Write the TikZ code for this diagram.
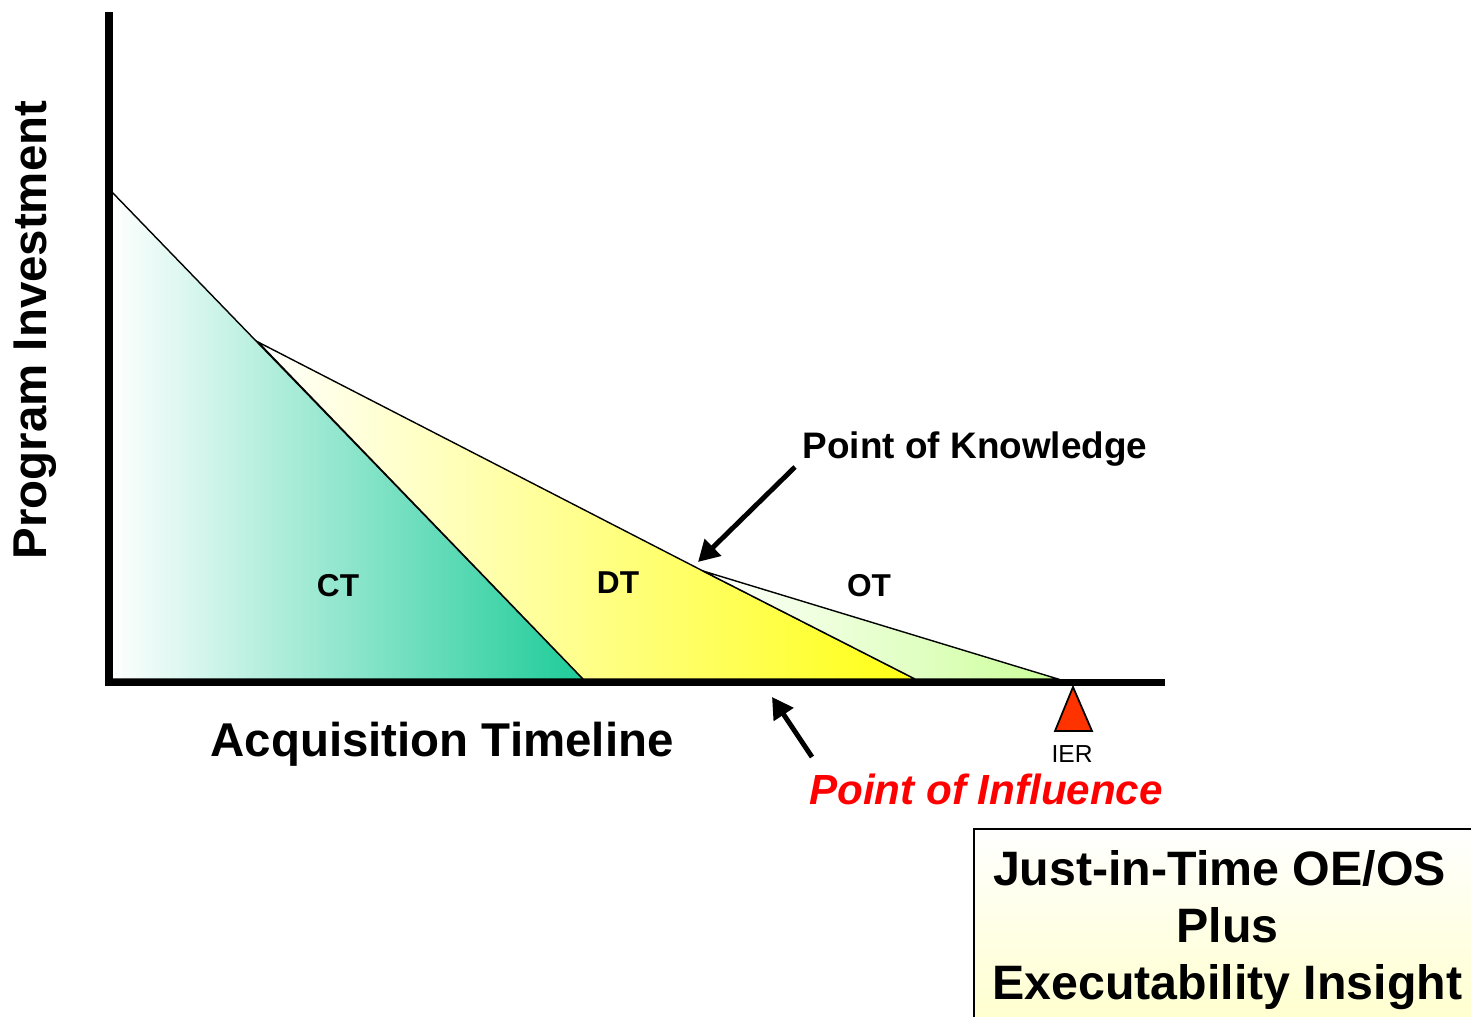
\documentclass[tikz,border=0pt]{standalone}
\usepackage{fontspec}
\setmainfont{Liberation Sans}
\usetikzlibrary{arrows.meta}

\definecolor{ctgreen}{RGB}{30,204,153}
\definecolor{dtyellow}{RGB}{255,255,20}
\definecolor{otgreen}{RGB}{204,255,153}
\definecolor{boxyellow}{RGB}{255,255,204}
\definecolor{iered}{RGB}{255,51,0}

\begin{document}
\begin{tikzpicture}[x=0.02cm,y=-0.02cm,
  axis/.style={line width=4.3pt},
  phaseline/.style={line width=0.8pt},
  pointer/.style={line width=2.8pt,-{Triangle[length=12pt,width=13pt]}},
  axislabel/.style={font=\fontsize{27}{32}\selectfont\bfseries,anchor=base},
  phase/.style={font=\fontsize{18}{21}\selectfont\bfseries,anchor=base}]

\useasboundingbox (0,0) rectangle (1471,1017);
\clip (0,0) rectangle (1471,1017);

\coordinate (top) at (110,190);
\coordinate (origin) at (110,679);
\coordinate (ctEnd) at (583,679);
\coordinate (bend) at (258,342);
\coordinate (knee) at (703,571);
\coordinate (dtEnd) at (915,679);
\coordinate (otEnd) at (1058,679);

\shadedraw[phaseline,left color=white,middle color=ctgreen!22!white,right color=ctgreen] (top) -- (ctEnd) -- (origin) -- cycle;
\shadedraw[phaseline,left color=white,middle color=dtyellow!32!white,right color=dtyellow] (bend) -- (knee) -- (dtEnd) -- (ctEnd) -- cycle;
\shadedraw[phaseline,left color=white,middle color=otgreen!55!white,right color=otgreen] (knee) -- (otEnd) -- (dtEnd) -- cycle;

\coordinate (yTop) at (109,12);
\coordinate (yEnd) at (109,686);
\coordinate (xStart) at (105,682.5);
\coordinate (xEnd) at (1165,682.5);
\draw[axis] (yTop) -- (yEnd);
\draw[axis] (xStart) -- (xEnd);

\filldraw[fill=iered,line width=1pt] (1073,687) -- (1092,731) -- (1055,731) -- cycle;

\node[phase] (ct) at (338,596) {CT};
\node[phase] (dt) at (618,593) {DT};
\node[phase] (ot) at (869,596) {OT};

\node[axislabel,rotate=90] (invest) at (47,330) {Program Investment};
\node[axislabel] (timeline) at (442,756) {Acquisition Timeline};
\node[font=\fontsize{21}{25}\selectfont\bfseries,anchor=base] (knowledge) at (975,458) {Point of Knowledge};
\node[font=\fontsize{24}{28}\selectfont\bfseries\itshape,text=red,anchor=base] (influence) at (986,804) {Point of Influence};
\node[font=\fontsize{14}{17}\selectfont,anchor=base] (ier) at (1072,762) {IER};

\coordinate (pokTail) at (795,467);
\coordinate (pokTip) at (698,562);
\coordinate (poiTail) at (812,757);
\coordinate (poiTip) at (772,697);
\draw[pointer] (pokTail) -- (pokTip);
\draw[pointer] (poiTail) -- (poiTip);

\node[draw,line width=1.1pt,top color=white,bottom color=boxyellow,anchor=north west,
  minimum width=10.14cm,minimum height=4.04cm,align=center,
  font=\fontsize{27.5}{32.6}\selectfont\bfseries] (insight) at (973,828)
  {Just-in-Time OE/OS\hspace*{0.32cm}\\Plus\\Executability Insight};

\end{tikzpicture}
\end{document}
